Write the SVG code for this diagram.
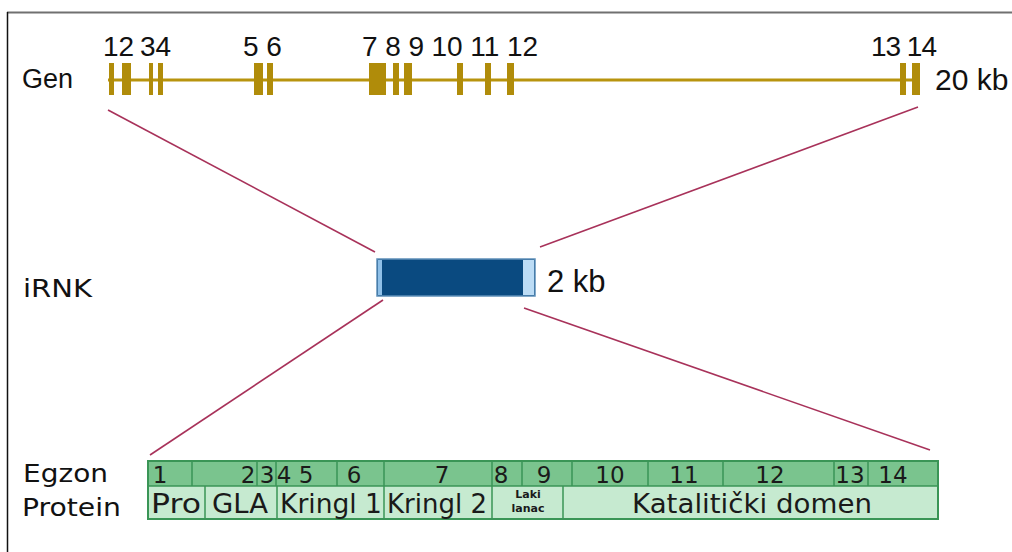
<svg xmlns="http://www.w3.org/2000/svg" width="1012" height="552" viewBox="0 0 1012 552">
  <style>
    .num { font-family: "Liberation Sans", Arial, sans-serif; font-size: 28px; fill: #111; }
    .lbl { font-family: "DejaVu Sans", Verdana, sans-serif; font-size: 25px; fill: #111; }
    .arial { font-family: "Liberation Sans", Arial, sans-serif; fill: #111; }
    .exon { fill: #b08c0a; }
    .conn { stroke: #a8325a; stroke-width: 1.6; fill: none; }
    .cell { font-family: "DejaVu Sans", Verdana, sans-serif; fill: #1a1a1a; text-anchor: middle; }
    .ex { fill: #7ac48e; }
    .pr { fill: #c6ead0; }
    .div { stroke: #3a9556; stroke-width: 1.5; }
  </style>

  <!-- frame -->
  <line x1="7" y1="12.5" x2="1012" y2="12.5" stroke="#707070" stroke-width="2"/>
  <line x1="7.5" y1="12" x2="7.5" y2="552" stroke="#111" stroke-width="1.5"/>

  <!-- gene with exons -->
  <g id="gene">
    <text class="arial" x="22" y="88" font-size="27">Gen</text>
    <line x1="108" y1="80" x2="918" y2="80" stroke="#b8940e" stroke-width="3"/>
    <rect class="exon" x="109" y="63" width="5" height="32"/>
    <rect class="exon" x="122" y="63" width="9" height="32"/>
    <rect class="exon" x="149" y="63" width="4" height="32"/>
    <rect class="exon" x="158" y="63" width="5" height="32"/>
    <rect class="exon" x="254" y="63" width="9" height="32"/>
    <rect class="exon" x="267" y="63" width="6" height="32"/>
    <rect class="exon" x="369" y="63" width="17" height="32"/>
    <rect class="exon" x="393" y="63" width="6" height="32"/>
    <rect class="exon" x="404" y="63" width="8" height="32"/>
    <rect class="exon" x="457" y="63" width="6" height="32"/>
    <rect class="exon" x="485" y="63" width="6" height="32"/>
    <rect class="exon" x="507" y="63" width="7" height="32"/>
    <rect class="exon" x="900" y="63" width="6" height="32"/>
    <rect class="exon" x="912" y="63" width="8" height="32"/>
    <text class="num" x="103" y="56">12</text>
    <text class="num" x="140" y="56">34</text>
    <text class="num" x="243" y="56">5 6</text>
    <text class="num" x="362" y="56" textLength="176">7 8 9 10 11 12</text>
    <text class="num" x="871" y="56" textLength="66">13 14</text>
    <text class="arial" x="935" y="90" font-size="30">20 kb</text>
  </g>

  <!-- mRNA -->
  <g id="mrna">
    <text class="lbl" x="23" y="297" textLength="69" lengthAdjust="spacingAndGlyphs">iRNK</text>
    <rect x="377" y="259" width="158" height="37" fill="#0a4a80" stroke="#5d8fb8" stroke-width="1.5"/>
    <rect x="378" y="260" width="4" height="35" fill="#8fc0e8"/>
    <rect x="523" y="260" width="11" height="35" fill="#bcdcf5"/>
    <text class="arial" x="547" y="292" font-size="31">2 kb</text>
  </g>

  <!-- connectors between levels -->
  <g id="connectors">
    <line class="conn" x1="108" y1="110" x2="375" y2="252"/>
    <line class="conn" x1="918" y1="107" x2="540" y2="247"/>
    <line class="conn" x1="383" y1="300" x2="150" y2="455"/>
    <line class="conn" x1="524" y1="308" x2="930" y2="450"/>
  </g>

  <!-- exon / protein domain table -->
  <g id="protein">
    <text class="lbl" x="23" y="482" textLength="85" lengthAdjust="spacingAndGlyphs">Egzon</text>
    <text class="lbl" x="22" y="516" textLength="99" lengthAdjust="spacingAndGlyphs">Protein</text>
    <rect class="ex" x="148" y="461" width="790" height="25"/>
    <rect class="pr" x="148" y="486" width="790" height="33"/>
    <!-- exon row dividers -->
    <line class="div" x1="192" y1="461" x2="192" y2="486"/>
    <line class="div" x1="257" y1="461" x2="257" y2="486"/>
    <line class="div" x1="276" y1="461" x2="276" y2="486"/>
    <line class="div" x1="337" y1="461" x2="337" y2="486"/>
    <line class="div" x1="522" y1="461" x2="522" y2="486"/>
    <line class="div" x1="572" y1="461" x2="572" y2="486"/>
    <line class="div" x1="648" y1="461" x2="648" y2="486"/>
    <line class="div" x1="723" y1="461" x2="723" y2="486"/>
    <line class="div" x1="834" y1="461" x2="834" y2="486"/>
    <line class="div" x1="868" y1="461" x2="868" y2="486"/>
    <!-- full-height dividers -->
    <line class="div" x1="384" y1="461" x2="384" y2="519"/>
    <line class="div" x1="492" y1="461" x2="492" y2="519"/>
    <!-- protein row dividers -->
    <line class="div" x1="205" y1="486" x2="205" y2="519"/>
    <line class="div" x1="277" y1="486" x2="277" y2="519"/>
    <line class="div" x1="563" y1="486" x2="563" y2="519"/>
    <line class="div" x1="148" y1="486" x2="938" y2="486"/>
    <rect x="148" y="461" width="790" height="58" fill="none" stroke="#3a9556" stroke-width="2"/>

    <g class="cell" font-size="23">
      <text x="160" y="483">1</text>
      <text x="248" y="483">2</text>
      <text x="267" y="483">3</text>
      <text x="284" y="483">4</text>
      <text x="306" y="483">5</text>
      <text x="354" y="483">6</text>
      <text x="442" y="483">7</text>
      <text x="501" y="483">8</text>
      <text x="544" y="483">9</text>
      <text x="610" y="483">10</text>
      <text x="684" y="483">11</text>
      <text x="770" y="483">12</text>
      <text x="850" y="483">13</text>
      <text x="893" y="483">14</text>
    </g>
    <g class="cell" font-size="26">
      <text x="176" y="513" textLength="50" lengthAdjust="spacingAndGlyphs">Pro</text>
      <text x="240" y="513" textLength="56" lengthAdjust="spacingAndGlyphs">GLA</text>
      <text x="331" y="513" textLength="102" lengthAdjust="spacingAndGlyphs">Kringl 1</text>
      <text x="437" y="513" textLength="100" lengthAdjust="spacingAndGlyphs">Kringl 2</text>
      <text x="752" y="513" textLength="240" lengthAdjust="spacingAndGlyphs">Katalitički domen</text>
    </g>
    <g class="cell" font-size="11" font-weight="bold">
      <text x="528" y="498">Laki</text>
      <text x="528" y="512">lanac</text>
    </g>
  </g>
</svg>
